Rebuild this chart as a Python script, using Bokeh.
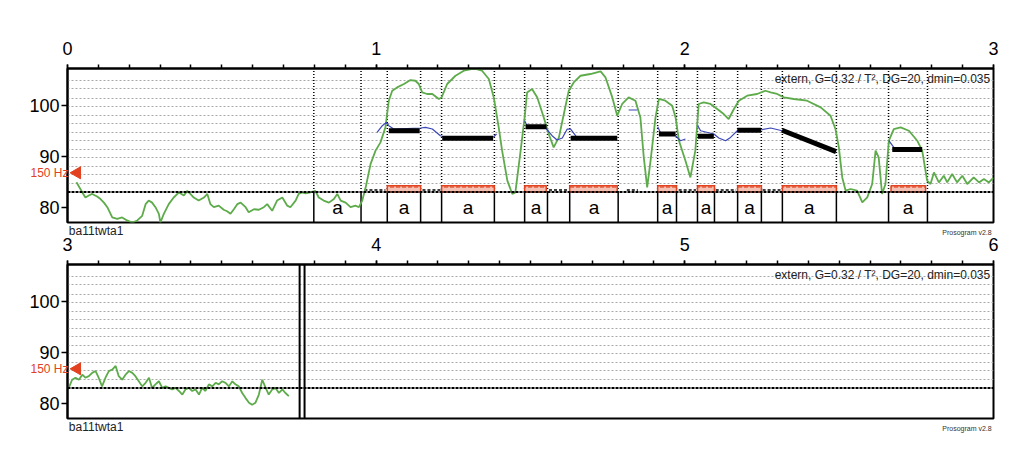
from bokeh.plotting import figure
from bokeh.models import Range1d, FixedTicker, Span, LinearAxis
from bokeh.layouts import column
from bokeh.embed import file_html
from bokeh.resources import INLINE
from bokeh.core.properties import value

FONT = "Liberation Sans"

# ---------------- data ----------------
panel_start = [0.0, 3.0]
panel_tick_labels = [["0", "1", "2", "3"], ["3", "4", "5", "6"]]
y_ticks = [80, 90, 100]
y_lo, y_hi = 77.0, 107.2
grid_st = [84.7, 86.4, 88.0, 89.7, 91.3, 93.0, 94.7, 96.4, 98.0, 99.7, 101.4, 103.2, 104.9]
tier_line_st = 83.0
ref_150hz_st = 86.74
ref_150hz_label = "150 Hz"
header_text = "extern, G=0.32 / T\u00b2, DG=20, dmin=0.035"
file_name = "ba11twta1"
version_text = "Prosogram v2.8"

# syllable tier (panel 1)
syl_bounds = [0.0, 0.798, 0.951, 1.036, 1.144, 1.212, 1.383, 1.481, 1.555, 1.627, 1.784,
              1.912, 1.973, 2.041, 2.096, 2.171, 2.248, 2.316, 2.491, 2.660, 2.786, 3.0]
syl_labels = ["", "a", "", "a", "", "a", "", "a", "", "a", "",
              "a", "", "a", "", "a", "", "a", "", "a", ""]

# nuclei (red boxes)
nuc_t0 = [1.036, 1.212, 1.481, 1.627, 1.912, 2.041, 2.171, 2.316, 2.668]
nuc_t1 = [1.144, 1.383, 1.551, 1.781, 1.973, 2.096, 2.248, 2.491, 2.780]

# stylized pitch (black)
sty_t0 = [1.041, 1.214, 1.484, 1.630, 1.916, 2.042, 2.170, 2.315, 2.672]
sty_t1 = [1.141, 1.379, 1.552, 1.781, 1.970, 2.094, 2.247, 2.490, 2.769]
sty_v0 = [95.0, 93.5, 95.8, 93.5, 94.35, 93.9, 95.1, 95.1, 91.3]
sty_v1 = [95.0, 93.5, 95.8, 93.5, 94.35, 93.9, 95.1, 90.9, 91.3]

# small intensity marks on tier line
mark_t0 = [0.962, 1.150, 1.560, 1.812, 1.980, 2.100, 2.252]
mark_t1 = [1.030, 1.208, 1.622, 1.848, 2.036, 2.166, 2.310]

# blue (raw stylisation) pieces
blue_t = [
    [1.003, 1.020, 1.033, 1.041, 1.057, 1.144, 1.160, 1.182, 1.208, 1.230, 1.381, 1.390],
    [1.481, 1.489, 1.549, 1.570, 1.586, 1.603, 1.619, 1.630, 1.646, 1.651, 1.781],
    [1.818, 1.846],
    [1.912, 1.921, 1.970, 1.986, 2.002],
    [2.042, 2.051, 2.094, 2.110, 2.132, 2.148, 2.170, 2.245, 2.278, 2.315, 2.396, 2.490],
    [2.661, 2.677],
]
blue_v = [
    [94.67, 95.98, 96.63, 95.98, 95.33, 95.53, 95.65, 95.33, 94.02, 93.57, 93.82, 94.35],
    [96.96, 95.98, 95.53, 94.02, 93.18, 93.57, 95.33, 95.33, 94.02, 93.57, 93.37],
    [99.06, 99.06],
    [95.78, 94.67, 94.02, 93.04, 93.37],
    [95.98, 95.0, 94.35, 93.57, 93.04, 93.69, 95.0, 95.14, 95.53, 95.0, 93.37, 91.08],
    [93.04, 91.73],
]

# F0 contour, panel 1 (green)
f0_t_1 = [0.029, 0.048, 0.058, 0.069, 0.080, 0.096, 0.107, 0.118, 0.129, 0.145, 0.161, 0.177,
          0.193, 0.210, 0.226, 0.242, 0.253, 0.263, 0.274, 0.285, 0.296, 0.301, 0.312, 0.328,
          0.344, 0.361, 0.377, 0.388, 0.398, 0.409, 0.425, 0.442, 0.453, 0.463, 0.474, 0.490,
          0.506, 0.517, 0.528, 0.539, 0.550, 0.561, 0.577, 0.587, 0.604, 0.620, 0.636, 0.647,
          0.663, 0.679, 0.696, 0.712, 0.722, 0.739, 0.749, 0.760, 0.771, 0.787, 0.803, 0.814,
          0.830, 0.847, 0.863, 0.874, 0.885, 0.901, 0.917, 0.933, 0.944, 0.955, 0.966, 0.982,
          0.998, 1.014, 1.030, 1.041, 1.052, 1.068, 1.090, 1.111, 1.127, 1.138, 1.149, 1.165,
          1.182, 1.203, 1.212, 1.230, 1.257, 1.284, 1.316, 1.343, 1.365, 1.381, 1.397, 1.408,
          1.425, 1.441, 1.451, 1.468, 1.481, 1.489, 1.505, 1.522, 1.543, 1.559, 1.575, 1.592,
          1.608, 1.624, 1.640, 1.662, 1.694, 1.727, 1.743, 1.765, 1.781, 1.797, 1.818, 1.840,
          1.856, 1.867, 1.878, 1.889, 1.905, 1.916, 1.937, 1.959, 1.970, 1.981, 2.002, 2.018,
          2.034, 2.045, 2.061, 2.083, 2.105, 2.126, 2.142, 2.159, 2.175, 2.202, 2.234, 2.261,
          2.278, 2.299, 2.321, 2.353, 2.396, 2.440, 2.472, 2.488, 2.499, 2.510, 2.521, 2.537,
          2.558, 2.575, 2.591, 2.607, 2.618, 2.628, 2.639, 2.650, 2.661, 2.677, 2.699, 2.726,
          2.753, 2.769, 2.785, 2.796, 2.807, 2.823, 2.839, 2.850, 2.866, 2.882, 2.899, 2.915,
          2.936, 2.953, 2.969, 2.985, 3.0]
f0_v_1 = [84.9, 82.9, 81.9, 82.3, 82.6, 82.1, 81.6, 80.9, 80.0, 78.0, 77.7, 78.0,
          77.4, 77.0, 77.4, 78.3, 80.6, 81.3, 80.9, 80.0, 78.7, 77.0, 78.7, 80.6,
          81.9, 82.9, 82.3, 83.2, 82.6, 81.9, 81.3, 81.9, 82.6, 80.6, 80.0, 80.3,
          79.5, 79.2, 78.7, 79.6, 80.6, 80.9, 80.0, 79.0, 79.6, 79.5, 80.0, 80.6,
          79.3, 81.3, 81.9, 80.3, 80.0, 81.3, 82.6, 82.9, 82.7, 82.9, 83.2, 81.9,
          81.3, 80.9, 81.6, 82.6, 81.3, 80.9, 80.0, 80.3, 80.0, 81.3, 83.9, 88.5,
          91.1, 92.71, 95.65, 100.88, 102.84, 103.49, 104.16, 104.94, 104.80, 104.16, 102.51, 102.20,
          102.20, 101.22, 101.53, 104.16, 105.78, 106.76, 107.2, 106.76, 105.14, 101.53, 95.65, 91.08,
          85.20, 82.59, 82.90, 91.08, 97.61, 102.51, 103.18, 101.53, 97.61, 94.35, 91.73, 93.69,
          98.27, 102.84, 104.47, 105.78, 106.12, 106.63, 105.45, 101.53, 97.94, 100.24, 101.53, 100.88,
          97.61, 89.76, 83.88, 89.12, 97.61, 101.22, 100.88, 99.90, 97.61, 93.04, 89.12, 85.84,
          91.08, 100.24, 100.55, 100.24, 99.25, 98.27, 97.29, 99.25, 100.88, 101.86, 102.20, 102.84,
          102.51, 102.20, 101.53, 101.22, 100.88, 99.57, 97.94, 95.33, 91.73, 85.84, 83.24, 83.57,
          83.24, 80.94, 81.92, 84.55, 91.08, 89.76, 82.59, 84.55, 93.04, 95.33, 95.65, 95.0,
          93.04, 91.08, 85.20, 84.55, 86.82, 84.86, 86.18, 84.86, 86.51, 84.86, 86.18, 84.55,
          85.84, 84.86, 85.53, 84.86, 85.78]

# F0 contour, panel 2 (green)
f0_t_2 = [3.004, 3.015, 3.026, 3.037, 3.048, 3.058, 3.069, 3.080, 3.091, 3.101, 3.112, 3.123,
          3.134, 3.145, 3.156, 3.166, 3.177, 3.188, 3.199, 3.210, 3.220, 3.231, 3.242, 3.253,
          3.264, 3.274, 3.285, 3.296, 3.307, 3.318, 3.328, 3.339, 3.350, 3.361, 3.372, 3.382,
          3.393, 3.404, 3.415, 3.426, 3.436, 3.447, 3.458, 3.469, 3.480, 3.490, 3.501, 3.512,
          3.523, 3.534, 3.544, 3.555, 3.566, 3.577, 3.588, 3.598, 3.609, 3.620, 3.631, 3.642,
          3.652, 3.663, 3.674, 3.685, 3.696, 3.706, 3.717]
f0_v_2 = [83.0, 84.6, 85.0, 84.6, 85.6, 85.0, 85.3, 85.95, 86.3, 85.0, 83.3, 85.0,
          86.3, 86.6, 87.3, 85.3, 84.6, 85.6, 86.3, 85.95, 85.3, 84.3, 83.3, 84.0,
          85.0, 83.0, 83.7, 84.3, 83.0, 83.3, 83.0, 82.7, 83.0, 82.4, 81.7, 82.7,
          83.0, 82.4, 82.7, 81.7, 83.0, 82.4, 83.7, 83.3, 84.0, 83.7, 84.3, 84.0,
          83.3, 84.3, 83.7, 83.3, 82.0, 81.0, 80.1, 79.7, 80.1, 81.7, 84.6, 83.0,
          81.7, 82.7, 83.0, 82.0, 82.7, 82.0, 81.4]

# end-of-signal double line (panel 2)
end_marks = [3.752, 3.768]

GREEN = "#5dab4a"
BLUE = "#3b48b5"
RED = "#e2421f"


def text_axis(p, loc, ticks, labels, size, color, standoff, style="normal"):
    ax = LinearAxis(ticker=FixedTicker(ticks=ticks, minor_ticks=[]),
                    major_label_overrides={k: v for k, v in zip(ticks, labels)},
                    axis_line_color=None, major_tick_line_color=None,
                    minor_tick_line_color=None, major_tick_out=0, major_tick_in=0,
                    minor_tick_out=0, minor_tick_in=0, major_label_standoff=standoff,
                    major_label_text_font=FONT, major_label_text_font_size=size,
                    major_label_text_color=color, major_label_text_font_style=style)
    p.add_layout(ax, loc)
    return ax


def make_panel(idx, min_top, min_bottom):
    t0 = panel_start[idx]
    p = figure(frame_width=926, frame_height=154, min_border_left=61, min_border_right=30,
               min_border_top=min_top, min_border_bottom=min_bottom,
               x_range=Range1d(t0, t0 + 3), y_range=Range1d(y_lo, y_hi),
               x_axis_location="above", toolbar_location=None, output_backend="svg",
               title=None, background_fill_color="white", border_fill_color="white")
    p.outline_line_color = "black"
    p.outline_line_width = 2
    p.outline_line_alpha = 1.0

    majors = [t0 + k for k in range(4)]
    minors = [round(t0 + 0.1 * k, 1) for k in range(31)]
    xa = p.xaxis[0]
    xa.ticker = FixedTicker(ticks=majors, minor_ticks=minors)
    xa.major_label_overrides = {m: lab for m, lab in zip(majors, panel_tick_labels[idx])}
    xa.axis_line_width = 2
    xa.major_tick_in = 0
    xa.major_tick_out = 4
    xa.minor_tick_in = 0
    xa.minor_tick_out = 4
    xa.major_tick_line_width = 1.5
    xa.minor_tick_line_width = 1.5
    xa.major_label_standoff = 10
    xa.major_label_text_font = FONT
    xa.major_label_text_font_size = "18px"
    xa.major_label_text_color = "black"

    ya = p.yaxis[0]
    ya.ticker = FixedTicker(ticks=y_ticks)
    ya.axis_line_width = 2
    ya.major_tick_in = 0
    ya.major_tick_out = 6
    ya.minor_tick_out = 0
    ya.minor_tick_in = 0
    ya.major_tick_line_width = 1.5
    ya.major_label_standoff = 2
    ya.major_label_text_font = FONT
    ya.major_label_text_font_size = "18px"
    ya.major_label_text_color = "black"

    # 150 Hz reference text (second left axis pulled inward)
    text_axis(p, "left", [ref_150hz_st], [ref_150hz_label], "12px", RED, -42)
    # file name and version below the frame
    text_axis(p, "below", [t0 + 0.0926], [file_name], "12px", "#222222", 1)
    text_axis(p, "below", [t0 + 2.914], [version_text], "7px", "#333333", -12)

    p.xgrid.visible = False
    p.ygrid.ticker = FixedTicker(ticks=grid_st)
    p.ygrid.grid_line_color = "#a8a8a8"
    p.ygrid.grid_line_dash = "2 2"
    p.ygrid.grid_line_width = 1

    # tier line
    p.add_layout(Span(location=tier_line_st, dimension="width", line_color="black",
                      line_width=2, line_dash="3 1"))

    # 150 Hz marker
    p.scatter(x=[t0 + 0.031], y=[ref_150hz_st], marker="triangle", angle=1.5708,
              size=12, fill_color=RED, line_color=RED)

    # header text (inside the frame)
    p.text(x=[t0 + 2.99], y=[105.2], text=[header_text], text_align="right",
           text_baseline="middle", text_font=value(FONT), text_font_size="12px",
           text_color="#222222")
    return p


p1 = make_panel(0, 59, 18)
p2 = make_panel(1, 36, 18)
p2.border_fill_alpha = 0.0
p1.margin = (9, 0, 0, 6)
p2.margin = (-12, 0, 0, 6)

# ---- panel 1 content ----
inner = syl_bounds[1:-1]
p1.segment(x0=inner, y0=[tier_line_st] * len(inner), x1=inner, y1=[y_hi] * len(inner),
           line_color="black", line_width=1.5, line_dash="1 2")
p1.segment(x0=inner, y0=[y_lo] * len(inner), x1=inner, y1=[tier_line_st] * len(inner),
           line_color="black", line_width=1.5)

centers = [(a + b) / 2 for a, b in zip(syl_bounds[:-1], syl_bounds[1:])]
p1.text(x=centers, y=[(y_lo + tier_line_st) / 2] * len(centers), text=syl_labels,
        text_align="center", text_baseline="middle", text_font=value(FONT),
        text_font_size="19px", text_color="black")

p1.quad(left=nuc_t0, right=nuc_t1, bottom=[tier_line_st] * len(nuc_t0),
        top=[tier_line_st + 1.2] * len(nuc_t0), fill_color="#f4c2b4", line_color=RED,
        line_width=1.5, hatch_pattern="horizontal_dash", hatch_color=RED, hatch_scale=6,
        hatch_weight=1.2)

p1.segment(x0=mark_t0, y0=[tier_line_st + 0.35] * len(mark_t0), x1=mark_t1,
           y1=[tier_line_st + 0.35] * len(mark_t0), line_color="black", line_width=1.5,
           line_dash="3 2")

p1.line(f0_t_1, f0_v_1, line_color=GREEN, line_width=1.8)
p1.multi_line(xs=blue_t, ys=blue_v, line_color=BLUE, line_width=1.2)
p1.segment(x0=sty_t0, y0=sty_v0, x1=sty_t1, y1=sty_v1, line_color="black", line_width=5,
           line_cap="butt")

# ---- panel 2 content ----
p2.line(f0_t_2, f0_v_2, line_color=GREEN, line_width=1.8)
for loc in end_marks:
    p2.add_layout(Span(location=loc, dimension="height", line_color="black", line_width=2))

layout = column(p1, p2, spacing=0)

open("out.html", "w").write(file_html(layout, INLINE))
